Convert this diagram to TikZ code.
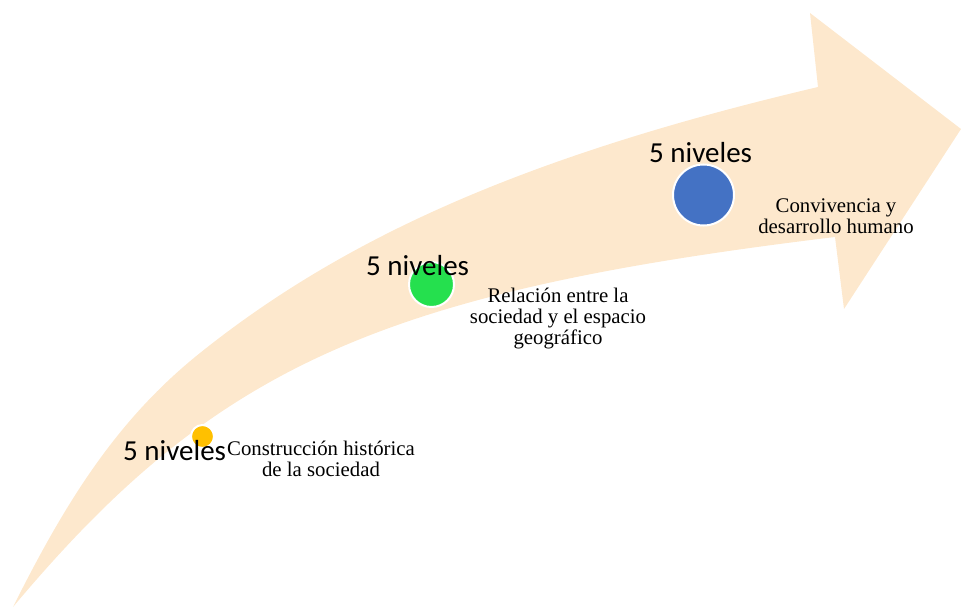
\documentclass[tikz,border=0pt]{standalone}
\usepackage{fontspec}
\setmainfont{Liberation Serif}
\newfontfamily\nivfont{Carlito}
\definecolor{peach}{HTML}{FDE8CD}
\definecolor{dotyellow}{HTML}{FFC000}
\definecolor{dotgreen}{HTML}{25E04E}
\definecolor{dotblue}{HTML}{4472C4}
\tikzset{
  dot/.style={circle, draw=white, line width=2pt, inner sep=0pt},
  niv/.style={anchor=base west, inner sep=0pt, font=\nivfont\fontsize{29}{35}\selectfont},
  desc/.style={anchor=base, inner sep=0pt, align=center, font=\fontsize{20.8}{20.8}\selectfont}
}
\begin{document}
\begin{tikzpicture}[x=1pt,y=-1pt]
\useasboundingbox (0,0) rectangle (961,607);
% curved arrow
\coordinate (tail) at (13,607);
\coordinate (mid) at (200,353);
\coordinate (ub) at (818,87);
\coordinate (hc1) at (810,13);
\coordinate (tip) at (961,129);
\coordinate (hc2) at (844,309);
\coordinate (lb) at (835,237);
\fill[peach] (tail) .. controls (66.6,499.7) and (118,418.6) .. (mid)
  .. controls (349.4,233.4) and (534.8,153.6) .. (ub)
  -- (hc1) -- (tip) -- (hc2) -- (lb)
  .. controls (380,292) and (215,366) .. (tail) -- cycle;
% dots
\node[dot, fill=dotyellow, minimum size=23pt] (d1) at (202.5,436.5) {};
\node[dot, fill=dotgreen, minimum size=45pt] (d2) at (431.5,284.5) {};
\node[dot, fill=dotblue, minimum size=61pt] (d3) at (703.5,195) {};
% labels
\node[niv] (n1) at (123,460) {5 niveles};
\node[niv] (n2) at (366,275) {5 niveles};
\node[niv] (n3) at (649,162) {5 niveles};
\node[desc] (t1) at (321,476) {Construcción histórica\\de la sociedad};
\node[desc] (t2) at (558,344) {Relación entre la\\sociedad y el espacio\\geográfico};
\node[desc] (t3) at (836,233) {Convivencia y\\desarrollo humano};
\end{tikzpicture}
\end{document}
